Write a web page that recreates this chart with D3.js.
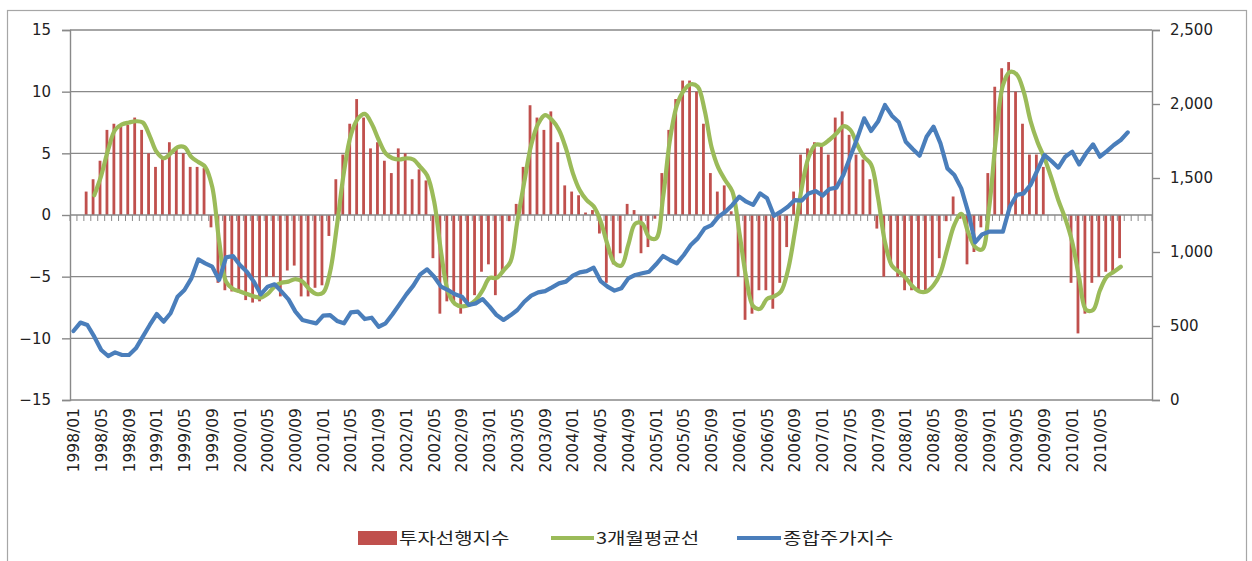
<!DOCTYPE html>
<html>
<head>
<meta charset="utf-8">
<script src="https://cdn.jsdelivr.net/npm/d3@7/dist/d3.min.js"></script>
<style>
body{margin:0;background:#fff}
text{font-family:"DejaVu Sans",sans-serif;fill:#222}
</style>
</head>
<body>
<svg width="1252" height="561"></svg>
<script>
// categories: 1998/01 .. 2010/08, then 4 unlabeled slots at the end of the axis
var months = [];
for (var yr = 1998; yr <= 2010; yr++)
  for (var m = 1; m <= 12; m++)
    if (yr < 2010 || m <= 8) months.push(yr + '/' + (m < 10 ? '0' + m : m));
months = months.concat(['', '', '', '']);

// 투자선행지수 (bars, left axis)
var leadIdx = [null,null,1.9,2.9,4.4,6.9,7.4,7.2,7.3,7.9,6.9,5.0,3.9,4.6,5.9,5.4,5.0,3.9,3.9,3.8,
 -1.0,-5.5,-6.1,-6.2,-6.3,-6.9,-7.1,-7.0,-5.0,-5.0,-6.6,-4.5,-4.1,-6.6,-6.6,-5.9,-5.7,-1.7,
 2.9,4.9,7.4,9.4,7.9,5.4,5.9,4.4,3.4,5.4,5.0,2.9,3.7,2.8,
 -3.5,-8.0,-7.0,-7.1,-8.0,-7.3,-6.5,-4.6,-4.0,-6.5,-4.6,-0.5,
 0.9,3.9,8.9,7.9,6.9,8.4,5.9,2.4,1.9,1.6,0.2,0.4,
 -1.5,-5.5,-4.0,-3.1,0.9,0.4,-3.1,-2.6,-0.3,
 3.4,6.9,9.4,10.9,10.9,10.0,7.4,3.4,1.9,2.4,0.3,
 -5.0,-8.5,-8.0,-6.1,-6.1,-7.6,-5.5,-2.6,
 1.9,4.9,5.4,5.9,5.6,4.9,7.9,8.4,6.5,4.9,4.5,2.9,
 -1.1,-5.0,-4.0,-5.0,-6.1,-6.1,-6.1,-6.1,-5.0,-3.5,-0.5,1.5,-0.3,-4.0,-3.0,-1.0,
 3.4,10.4,11.9,12.4,10.0,7.4,4.9,4.9,3.9,0,0,0,
 -5.5,-9.6,-8.0,-5.5,-5.0,-4.6,-4.6,-3.5,null,null,null,null];

// 3개월평균선 (smoothed line, left axis)
var avg3 = [null,null,null,1.6,3.2,5.3,6.9,7.35,7.5,7.6,7.5,6.4,5.1,4.6,5.0,5.5,5.5,4.7,4.3,3.9,
 2.3,-2.1,-5.4,-6.0,-6.2,-6.4,-6.6,-6.7,-6.4,-5.8,-5.5,-5.4,-5.2,-5.4,-6.0,-6.4,-6.3,-4.6,
 -0.8,3.5,6.5,7.8,8.2,7.4,6.1,5.0,4.6,4.5,4.6,4.5,3.9,3.2,1.1,
 -3.0,-6.2,-7.2,-7.4,-7.3,-6.9,-6.1,-5.1,-5.1,-4.5,-3.8,
 -0.5,2.7,5.7,7.4,8.1,7.7,6.9,5.4,3.4,2.0,1.2,0.7,
 -0.5,-2.4,-3.9,-4.1,-2.4,-0.7,-0.7,-1.8,-1.9,
 1.4,6.1,8.9,10.1,10.6,10.4,8.5,5.5,3.8,2.8,1.9,
 -1.4,-5.1,-7.4,-7.6,-6.8,-6.6,-6.2,-4.5,-1.4,
 2.2,4.7,5.7,5.7,6.1,6.6,7.2,6.9,5.7,4.7,4.1,1.4,
 -2.2,-4.1,-4.6,-5.1,-5.8,-6.2,-6.2,-5.7,-4.7,-2.7,-0.8,0.1,-1.4,-2.6,-2.8,
 0.5,6.2,10.5,11.6,11.4,10.0,7.6,5.9,4.6,3.0,1.2,-0.3,
 -2.2,-5.1,-7.7,-7.7,-6.1,-5.0,-4.6,-4.2,null,null,null,null];

// 종합주가지수 (line, right axis)
var kospi = [466,523,507,428,338,297,322,304,304,349,428,507,581,529,586,698,743,822,950,923,
 901,811,964,973,912,867,800,714,766,782,732,680,597,541,529,518,570,574,534,518,
 592,597,547,556,495,518,579,646,714,773,849,883,833,766,743,714,698,642,653,682,
 631,574,541,572,608,664,705,727,736,761,788,800,840,862,871,894,804,766,739,755,
 822,845,856,867,917,973,946,923,980,1047,1092,1160,1182,1239,1272,1318,1374,1340,1318,1396,
 1363,1245,1273,1306,1351,1347,1396,1412,1381,1426,1435,1520,1644,1768,1903,1818,1881,1993,1921,1876,
 1745,1696,1651,1779,1847,1734,1565,1520,1430,1270,1065,1119,1137,1137,1137,1306,1385,1396,1453,1554,
 1655,1615,1570,1644,1678,1592,1667,1727,1644,1682,1723,1757,1808,null,null,null];

var leftTicks = [-15,-10,-5,0,5,10,15];
var rightTicks = [0,500,1000,1500,2000,2500];
var legendNames = ['투자선행지수','3개월평균선','종합주가지수'];

var svg = d3.select('svg');
var L = 70, R = 1152, T = 30, B = 400;
var grey = '#898989';

var x = d3.scaleBand().domain(d3.range(months.length)).range([L, R]).padding(0);
var y = d3.scaleLinear().domain([-15, 15]).range([B, T]);
var y2 = d3.scaleLinear().domain([0, 2500]).range([B, T]);
var bw = x.bandwidth();
var cx = function(i){ return x(i) + bw / 2; };

// outer frame
svg.append('rect').attr('x', 7.5).attr('y', 10.5).attr('width', 1239).attr('height', 600)
  .attr('fill', 'none').attr('stroke', '#a6a6a6').attr('stroke-width', 1.2);

// gridlines
svg.append('g').selectAll('line').data(leftTicks.filter(function(d){ return d != 0; }))
  .enter().append('line')
  .attr('x1', L).attr('x2', R).attr('y1', function(d){ return y(d); }).attr('y2', function(d){ return y(d); })
  .attr('stroke', grey).attr('stroke-width', 1.4);

// left axis
var ga = svg.append('g').attr('transform', 'translate(' + L + ',0)')
  .call(d3.axisLeft(y).tickValues(leftTicks).tickSize(8).tickPadding(11));
ga.select('.domain').attr('stroke', grey).attr('stroke-width', 1.4);
ga.selectAll('.tick line').attr('stroke', grey).attr('stroke-width', 1.4);
ga.selectAll('text').style('font-size', '15px').attr('fill', '#222');

// right axis
var gb = svg.append('g').attr('transform', 'translate(' + R + ',0)')
  .call(d3.axisRight(y2).tickValues(rightTicks).tickFormat(d3.format(',')).tickSize(8).tickPadding(10));
gb.select('.domain').attr('stroke', grey).attr('stroke-width', 1.4);
gb.selectAll('.tick line').attr('stroke', grey).attr('stroke-width', 1.4);
gb.selectAll('text').style('font-size', '15px').attr('fill', '#222');

// bars
svg.append('g').selectAll('rect').data(leadIdx.map(function(v, i){ return {v: v, i: i}; })
    .filter(function(d){ return d.v != null && d.v != 0; }))
  .enter().append('rect')
  .attr('x', function(d){ return cx(d.i) - 2.6; })
  .attr('width', 2.8)
  .attr('y', function(d){ return Math.min(y(d.v), y(0)); })
  .attr('height', function(d){ return Math.abs(y(d.v) - y(0)); })
  .attr('fill', '#C0504D');

// category axis on zero line
var xa = svg.append('g');
xa.append('line').attr('x1', L).attr('x2', R).attr('y1', y(0)).attr('y2', y(0))
  .attr('stroke', grey).attr('stroke-width', 1.4);
xa.selectAll('line.t').data(d3.range(months.length + 1)).enter().append('line')
  .attr('class', 't')
  .attr('x1', function(i){ return i < months.length ? x(i) : R; })
  .attr('x2', function(i){ return i < months.length ? x(i) : R; })
  .attr('y1', y(0)).attr('y2', y(0) + 6)
  .attr('stroke', grey).attr('stroke-width', 1);

// category labels (every 4th month)
svg.append('g').selectAll('text')
  .data(d3.range(months.length).filter(function(i){ return i % 4 == 0 && months[i] != ''; }))
  .enter().append('text')
  .attr('transform', function(i){ return 'translate(' + cx(i) + ',408) rotate(-90)'; })
  .attr('text-anchor', 'end').attr('dy', '0.36em')
  .style('font-size', '15.5px')
  .text(function(i){ return months[i]; });

// 3-month average line
var lineL = d3.line().defined(function(d){ return d != null; })
  .x(function(d, i){ return cx(i); }).y(function(d){ return y(d); })
  .curve(d3.curveCatmullRom.alpha(0.5));
svg.append('path').datum(avg3).attr('d', lineL)
  .attr('fill', 'none').attr('stroke', '#9BBB59').attr('stroke-width', 4.2)
  .attr('stroke-linejoin', 'round').attr('stroke-linecap', 'round');

// KOSPI line
var lineR = d3.line().defined(function(d){ return d != null; })
  .x(function(d, i){ return cx(i); }).y(function(d){ return y2(d); });
svg.append('path').datum(kospi).attr('d', lineR)
  .attr('fill', 'none').attr('stroke', '#4A7EBB').attr('stroke-width', 4.2)
  .attr('stroke-linejoin', 'round').attr('stroke-linecap', 'round');

// legend
var lg = svg.append('g');
lg.append('rect').attr('x', 358).attr('y', 531).attr('width', 39).attr('height', 14).attr('fill', '#C0504D');
lg.append('line').attr('x1', 551).attr('x2', 594).attr('y1', 538).attr('y2', 538)
  .attr('stroke', '#9BBB59').attr('stroke-width', 4);
lg.append('line').attr('x1', 737).attr('x2', 781).attr('y1', 538).attr('y2', 538)
  .attr('stroke', '#4A7EBB').attr('stroke-width', 4);
var lx = [399, 596, 783];
lg.selectAll('text').data(legendNames).enter().append('text')
  .attr('transform', function(d, i){ return 'translate(' + lx[i] + ',544) scale(1.25,1)'; })
  .style('font-family', '"Noto Sans CJK KR",sans-serif').style('font-size', '16px')
  .text(function(d){ return d; });
</script>
</body>
</html>
